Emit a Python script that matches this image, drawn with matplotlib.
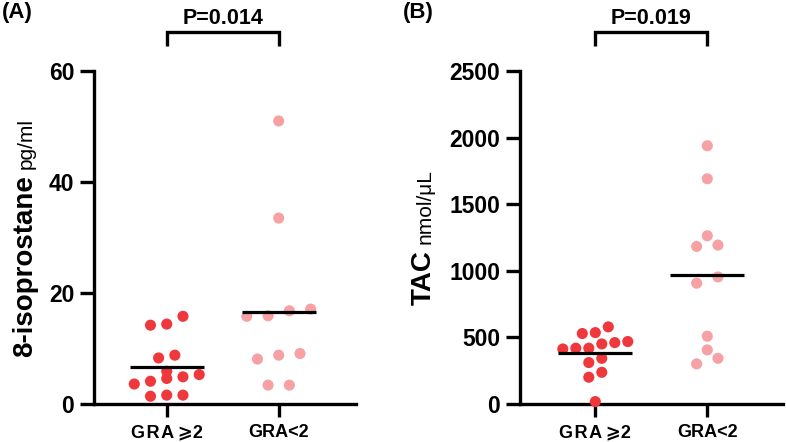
import numpy as np
import matplotlib
matplotlib.use("Agg")
import matplotlib.pyplot as plt
from matplotlib.transforms import IdentityTransform, blended_transform_factory

# ---------------- data ----------------
categories = ["G\u200aR\u200aA\u2009\u2a7e2", "GRA<2"]
iso_high = [14.4, 15.8, 14.2, 8.3, 8.8, 5.3, 4.9, 5.9, 3.6, 4.1, 4.6, 1.4, 1.6, 1.6]
iso_low = [51.0, 33.5, 15.8, 16.8, 17.1, 15.9, 8.8, 8.1, 9.1, 3.4, 3.4]
tac_high = [536, 579, 529, 451, 461, 469, 413, 419, 419, 343, 311, 238, 201, 18]
tac_low = [1939, 1691, 1263, 1193, 1183, 954, 907, 509, 406, 343, 301]
p_texts = ["P=0.014", "P=0.019"]
panel_labels = ["(A)", "(B)"]
yticks_a = [0, 20, 40, 60]
yticks_b = [0, 500, 1000, 1500, 2000, 2500]
ylabel_a = ("8-isoprostane", "pg/ml")
ylabel_b = ("TAC", "nmol/\u03bcL")

RED = "#EF383C"
PINK = "#F7A1A4"

plt.rcParams['font.family'] = ['Liberation Sans', 'DejaVu Sans']

W, H = 786, 442
fig = plt.figure(figsize=(W / 100, H / 100), dpi=100)


def swarm_offsets(values, yrange, thr_frac=0.03, max_step=0.19, max_width=0.58):
    vals = np.asarray(values, dtype=float)
    order = np.argsort(vals, kind="stable")
    thr = thr_frac * yrange
    rows, cur, start = [], [], None
    for idx in order:
        v = vals[idx]
        if start is None or v - start > thr:
            if cur:
                rows.append(cur)
            cur, start = [idx], v
        else:
            cur.append(idx)
    if cur:
        rows.append(cur)
    maxrow = max(len(r) for r in rows)
    step = max_step if maxrow < 2 else min(max_step, max_width / (maxrow - 1))
    off = np.zeros(len(vals))
    for r in rows:
        n = len(r)
        for i, idx in enumerate(r):
            off[idx] = (i - (n - 1) / 2) * step
    return off


def panel(rect, xlim, groups, yticks, ptext):
    ax = fig.add_axes(rect)
    ymax = yticks[-1]
    ax.set_xlim(*xlim)
    ax.set_ylim(0, ymax)
    for i, (vals, col) in enumerate(groups):
        off = swarm_offsets(vals, ymax)
        ax.scatter(i + off, vals, s=64, color=col, edgecolors='none', zorder=3, clip_on=False)
        m = np.mean(vals)
        ax.hlines(m, i - 0.33, i + 0.33, color='black', lw=2.3, zorder=4)
    for s in ['top', 'right']:
        ax.spines[s].set_visible(False)
    for s in ['left', 'bottom']:
        ax.spines[s].set_linewidth(2.4)
    ax.set_yticks(yticks)
    ax.set_yticklabels([str(t) for t in yticks], fontsize=16.5, fontweight='bold')
    ax.set_xticks(range(len(categories)))
    ax.set_xticklabels(categories, fontsize=13, fontweight='bold')
    ax.tick_params(axis='y', width=2.4, length=10, pad=4)
    ax.tick_params(axis='x', width=2.4, length=9.5, pad=5)
    tr = blended_transform_factory(ax.transData, ax.transAxes)
    ax.plot([0, 0, 1, 1], [1.075, 1.117, 1.117, 1.075], transform=tr, clip_on=False,
            color='black', lw=2.4, solid_joinstyle='miter', solid_capstyle='butt')
    ax.text(0.5, 1.141, ptext, transform=tr, ha='center', va='baseline',
            fontsize=15.5, fontweight='bold')
    return ax


axA = panel([93.7 / W, 38 / H, 262.3 / W, 333 / H], (-0.652, 1.690),
            [(iso_high, RED), (iso_low, PINK)], yticks_a, p_texts[0])
axB = panel([519.7 / W, 38 / H, 263.3 / W, 333 / H], (-0.675, 1.676),
            [(tac_high, RED), (tac_low, PINK)], yticks_b, p_texts[1])

fig.text(2 / W, 1 - 2 / H, panel_labels[0], ha='left', va='top', fontsize=16, fontweight='bold')
fig.text(403 / W, 1 - 2 / H, panel_labels[1], ha='left', va='top', fontsize=16, fontweight='bold')

fig.canvas.draw()
renderer = fig.canvas.get_renderer()
center_y = 38 + 333 / 2


def two_part_label(xbase, bold, regular):
    t1 = fig.text(xbase, 0, bold, transform=IdentityTransform(), rotation=90,
                  rotation_mode='anchor', ha='left', va='baseline', fontsize=20, fontweight='bold')
    t2 = fig.text(xbase, 0, regular, transform=IdentityTransform(), rotation=90,
                  rotation_mode='anchor', ha='left', va='baseline', fontsize=15)
    l1 = t1.get_window_extent(renderer).height
    l2 = t2.get_window_extent(renderer).height
    gap = 6
    start = center_y - (l1 + gap + l2) / 2
    t1.set_position((xbase, start))
    t2.set_position((xbase, start + l1 + gap))


two_part_label(32, *ylabel_a)
two_part_label(431, *ylabel_b)

fig.savefig("out.png", dpi=100)
